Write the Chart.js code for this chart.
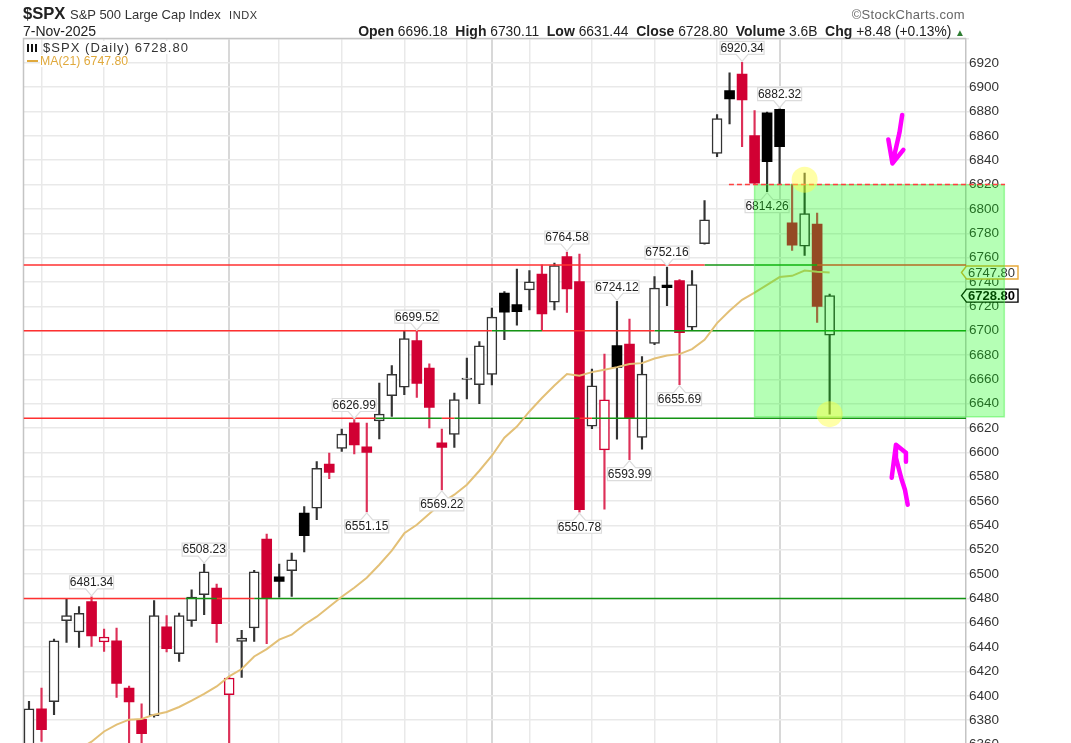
<!DOCTYPE html>
<html>
<head>
<meta charset="utf-8">
<title>$SPX</title>
<script src="https://cdn.jsdelivr.net/npm/chart.js@4"></script>
<style>
  html, body { margin: 0; padding: 0; width: 1071px; height: 743px; overflow: hidden; background: #fff; }
  body { position: relative; font-family: "Liberation Sans", Arial, sans-serif; color: #222; }
  canvas { position: absolute; left: 0; top: 0; }
  .txt { position: absolute; white-space: pre; line-height: 1; }
  .sym { left: 23px; top: 6px; font-size: 16.6px; font-weight: bold; }
  .name { left: 70px; top: 8px; font-size: 13px; color: #333; }
  .exch { left: 229px; top: 10px; font-size: 11px; letter-spacing: .6px; color: #333; }
  .date { left: 23px; top: 24px; font-size: 14px; }
  .brand { right: 106px; top: 8px; font-size: 13px; color: #666; letter-spacing: .3px; }
  .quote { right: 106px; top: 24px; font-size: 13.8px; }
  .quote b { font-size: 14px; }
  .quote i { font-style: normal; color: #2e7d32; font-size: 10px; }
  .legend { left: 43px; top: 41px; font-size: 13px; letter-spacing: 1.05px; background: #fff; color: #333; }
  .ico { position: absolute; left: 27px; top: 44px; width: 10px; height: 8px; background: repeating-linear-gradient(90deg, #111 0 2.5px, #fff 2.5px 4px); }
  .swatch { position: absolute; left: 27px; top: 60px; width: 11px; height: 2px; background: #e0a93c; }
  .legend2 { left: 40px; top: 55px; font-size: 12.3px; color: #e0a93c; background: #fff; }
</style>
</head>
<body>
<canvas id="chart" width="1071" height="794"></canvas>
<div class="txt sym">$SPX</div>
<div class="txt name">S&amp;P 500 Large Cap Index</div>
<div class="txt exch">INDX</div>
<div class="txt date">7-Nov-2025</div>
<div class="txt brand">©StockCharts.com</div>
<div class="txt quote"><b>Open</b> 6696.18  <b>High</b> 6730.11  <b>Low</b> 6631.44  <b>Close</b> 6728.80  <b>Volume</b> 3.6B  <b>Chg</b> +8.48 (+0.13%) <i>▲</i></div>
<div class="ico"></div>
<div class="txt legend">$SPX (Daily) 6728.80</div>
<div class="swatch"></div>
<div class="txt legend2">MA(21) 6747.80</div>
<script>
// daily candles, oldest first
const opens = [6350, 6389.2, 6395.1, 6461.7, 6452.4, 6477.3, 6444.2, 6445.2, 6406.4, 6380.6,
  6383.6, 6456.7, 6434.6, 6461.7, 6483, 6488.5, 6400.9, 6444.7, 6455.7, 6528.8,
  6497.8, 6502.7, 6550.1, 6554.2, 6590.4, 6603.2, 6624.3, 6604.6, 6625.9, 6646.5,
  6653.6, 6691.9, 6669.2, 6607.9, 6614.7, 6660, 6655.7, 6664, 6730.8, 6721.4,
  6733.5, 6746.4, 6723.4, 6760.9, 6740.3, 6621.6, 6602.1, 6687.8, 6688.9, 6612.2,
  6689.4, 6737.5, 6741.2, 6702.9, 6771.5, 6845.5, 6897.2, 6910.7, 6860.2, 6878.9,
  6881.9, 6788.5, 6769.4, 6787.5, 6696.18];
const highs = [6395.4, 6406.4, 6446.6, 6480, 6473.2, 6481.34, 6454.9, 6455.7, 6408, 6393.3,
  6478.3, 6466, 6468, 6487.1, 6508.23, 6491.8, 6415.5, 6453.7, 6503, 6532.9,
  6508.2, 6517.3, 6555.5, 6592.5, 6599.4, 6619.1, 6626.99, 6624, 6656.9, 6671.3,
  6699.5, 6699.52, 6672.7, 6619.1, 6648.7, 6677.4, 6691.1, 6718.5, 6732.1, 6750.5,
  6749.4, 6754, 6755.4, 6764.58, 6762.8, 6668.4, 6680.7, 6724.12, 6709.5, 6678.7,
  6744.4, 6752.16, 6742, 6749.4, 6806.9, 6877.5, 6911.7, 6920.34, 6880.8, 6879.5,
  6882.32, 6820.3, 6829.4, 6796.5, 6730.11];
const lows = [6338, 6362.5, 6384.5, 6443.8, 6439.7, 6440.6, 6436.5, 6398.7, 6352, 6358,
  6382.5, 6436, 6428.2, 6457, 6466.6, 6443.8, 6345, 6415.1, 6444.7, 6442.8,
  6481.1, 6481.6, 6518.3, 6544.6, 6578.3, 6600.7, 6598.8, 6551.15, 6611.1, 6629.5,
  6647.3, 6645.1, 6620, 6569.22, 6604, 6644, 6639.9, 6655.5, 6692.5, 6704.5,
  6717.1, 6700.1, 6717.1, 6714.9, 6550.78, 6619.4, 6553.4, 6610.9, 6593.99, 6602.7,
  6688.5, 6720.6, 6655.69, 6700.1, 6771, 6843, 6869.9, 6851.2, 6820.5, 6814.26,
  6820.3, 6765.8, 6761.7, 6706.7, 6631.44];
const closes = [6389.2, 6372.1, 6445.2, 6465.8, 6467.7, 6449.1, 6448.3, 6410.2, 6394.9, 6368.9,
  6465.8, 6438.7, 6465.8, 6481.1, 6501.9, 6459.2, 6414.6, 6447.5, 6501.9, 6480,
  6494, 6511.8, 6531.5, 6586.8, 6583.5, 6615, 6606.2, 6599.9, 6631.4, 6664,
  6693.5, 6656.6, 6636.9, 6604, 6643.4, 6661, 6687.5, 6711.1, 6715.2, 6715.5,
  6740.1, 6713.8, 6753.5, 6734.3, 6553, 6654.7, 6643.2, 6669.7, 6628.1, 6664.3,
  6734.9, 6735.2, 6698.4, 6737.9, 6791, 6874.2, 6890.4, 6889.6, 6821.1, 6838.9,
  6851.2, 6770.2, 6796.2, 6719.8, 6728.8];
const ma21 = [6336, 6340, 6345, 6350, 6356, 6362.3, 6370.7, 6376.3, 6380.4, 6381,
  6384.5, 6386.7, 6390.8, 6396, 6401.5, 6407.7, 6415.9, 6422, 6432.3, 6438.4,
  6446.1, 6450.2, 6458.4, 6465, 6473.2, 6481.4, 6488.8, 6497, 6507.7, 6519.2,
  6533.5, 6540.5, 6549.5, 6558.6, 6565.2, 6573.4, 6584.9, 6597.2, 6612, 6621.2,
  6633.6, 6644.6, 6654.9, 6664.3, 6662.9, 6665.9, 6667.8, 6670, 6672.5, 6673.3,
  6677.1, 6679.6, 6680.7, 6684.8, 6692.5, 6706.2, 6716.3, 6725.3, 6731.3, 6737.6,
  6744, 6745, 6749.4, 6748.3, 6747.8];

const gridDays = [1, 6, 11, 16, 20, 25, 30, 35, 37, 40, 45, 50, 55, 60, 65, 70];
const monthDays = [16, 37, 60];

// [day, value, 'up' above the high / 'down' below the low]
const priceLabels = [
  [5, 6481.34, 'up'], [14, 6508.23, 'up'], [26, 6626.99, 'up'], [31, 6699.52, 'up'],
  [43, 6764.58, 'up'], [47, 6724.12, 'up'], [51, 6752.16, 'up'], [57, 6920.34, 'up'], [60, 6882.32, 'up'],
  [27, 6551.15, 'down'], [33, 6569.22, 'down'], [44, 6550.78, 'down'], [48, 6593.99, 'down'],
  [52, 6655.69, 'down'], [59, 6814.26, 'down']
];

// support / resistance lines: [price, fromDay, toDay, colour]
const DAY_MIN = -0.44, DAY_MAX = 74.9;
const RED = '#ff3030', GREEN = '#149414';
const levelLines = [
  [6754, DAY_MIN, 54, RED], [6754, 54, 63, GREEN], [6754, 63, DAY_MAX, RED],
  [6700, DAY_MIN, 37, RED], [6700, 37, 41, GREEN], [6700, 41, 50, RED], [6700, 50, DAY_MAX, GREEN],
  [6628, DAY_MIN, 27.7, RED], [6628, 27.7, 33, GREEN], [6628, 33, 34, RED], [6628, 34, 44, GREEN], [6628, 44, 45, RED], [6628, 45, DAY_MAX, GREEN],
  [6480, DAY_MIN, 12.5, RED], [6480, 12.5, 15, GREEN], [6480, 15, 18, RED], [6480, 18, DAY_MAX, GREEN]
];

const boxDay = 67.98, boxLow = 6628.8, boxHigh = 6820.5;
const dashedDays = [55.95, 78.02], dashedPrice = 6820;
const circleDays = [62, 64], circlePrices = [6824, 6631.4];

const arrowDownDays = [69.8, 69.58, 69.02, 68.69, 69.02, 69.89];
const arrowDownPrices = [6877.2, 6862.5, 6837.4, 6857.1, 6837.4, 6848.5];
const arrowUpDays = [70.24, 70.02, 69.76, 69.3, 69.3, 68.96, 69.3, 70.1, 70.1];
const arrowUpPrices = [6557, 6569.3, 6577.5, 6595.5, 6606.2, 6579.1, 6606.2, 6599.6, 6592.3];

const CANDLE_RED = '#d10033';
const isDown = i => i > 0 && closes[i] < closes[i - 1];
const isHollow = i => closes[i] >= opens[i];
const edge = i => isDown(i) ? CANDLE_RED : (isHollow(i) ? '#333' : '#000');

const days = closes.map((_, i) => i);
const maIndex = 2;

const datasets = [
  { type: 'bar', data: days.map(i => ({ x: i, y: [lows[i], highs[i]] })), barThickness: 1.5, grouped: false,
    backgroundColor: days.map(i => isDown(i) ? '#dd3058' : '#333'), order: 9 },
  { type: 'bar', data: days.map(i => ({ x: i, y: [Math.min(opens[i], closes[i]), Math.max(opens[i], closes[i])] })),
    barThickness: 10, grouped: false, borderSkipped: false,
    backgroundColor: days.map(i => isHollow(i) ? '#fff' : edge(i)),
    borderColor: days.map(edge), borderWidth: days.map(i => isHollow(i) ? 1.5 : 0), order: 8 },
  { type: 'line', data: days.map(i => ({ x: i, y: ma21[i] })), borderColor: '#e3c077', borderWidth: 2,
    pointRadius: 0, tension: 0, order: 6 },
  { type: 'bar', data: [{ x: boxDay, y: [boxLow, boxHigh] }], barThickness: 251, grouped: false, clip: false,
    backgroundColor: 'rgba(0,255,0,0.29)', borderColor: 'rgba(90,240,90,0.5)', borderWidth: 1, borderSkipped: false, order: 5 },
  { type: 'line', data: dashedDays.map(d => ({ x: d, y: dashedPrice })), borderColor: '#ff4040', borderWidth: 1.5,
    borderDash: [5, 3], pointRadius: 0, clip: false, order: 4 },
  { type: 'line', data: circleDays.map((d, i) => ({ x: d, y: circlePrices[i] })), showLine: false, pointRadius: 13,
    pointBorderWidth: 0, pointBackgroundColor: 'rgba(255,255,60,0.45)', clip: false, order: 3 },
  { type: 'line', data: arrowDownDays.map((d, i) => ({ x: d, y: arrowDownPrices[i] })), borderColor: '#ff00ff', borderWidth: 4.5,
    pointRadius: 0, borderJoinStyle: 'round', borderCapStyle: 'round', order: 2 },
  { type: 'line', data: arrowUpDays.map((d, i) => ({ x: d, y: arrowUpPrices[i] })), borderColor: '#ff00ff', borderWidth: 4.5,
    pointRadius: 0, borderJoinStyle: 'round', borderCapStyle: 'round', order: 2 }
];
levelLines.forEach(([price, from, to, colour]) => {
  datasets.push({ type: 'line', data: [{ x: from, y: price }, { x: to, y: price }], borderColor: colour, borderWidth: 1.5, pointRadius: 0, order: 7 });
});

function drawPriceLabel(ctx, px, py, text, dir) {
  const w = 44, h = 13, gap = 8, s = dir === 'up' ? -1 : 1;
  const near = py + s * gap, far = near + s * h, tip = py + s * 1;
  ctx.beginPath();
  ctx.moveTo(px - w / 2, near);
  ctx.lineTo(px - 6, near);
  ctx.lineTo(px, tip);
  ctx.lineTo(px + 6, near);
  ctx.lineTo(px + w / 2, near);
  ctx.lineTo(px + w / 2, far);
  ctx.lineTo(px - w / 2, far);
  ctx.closePath();
  ctx.fillStyle = '#fff';
  ctx.fill();
  ctx.strokeStyle = '#dcdcdc';
  ctx.lineWidth = 1.2;
  ctx.stroke();
  ctx.fillStyle = '#222';
  ctx.font = '12px "Liberation Sans", Arial, sans-serif';
  ctx.textAlign = 'center';
  ctx.textBaseline = 'middle';
  ctx.fillText(text, px, (near + far) / 2 + 0.5);
}

function drawPriceTag(ctx, py, text, colour, bold) {
  const left = 966.5, right = 1018, h = 13;
  ctx.beginPath();
  ctx.moveTo(left - 5, py);
  ctx.lineTo(left, py - h / 2);
  ctx.lineTo(right, py - h / 2);
  ctx.lineTo(right, py + h / 2);
  ctx.lineTo(left, py + h / 2);
  ctx.closePath();
  ctx.fillStyle = '#fff';
  ctx.fill();
  ctx.strokeStyle = colour;
  ctx.lineWidth = 1.4;
  ctx.stroke();
  ctx.fillStyle = bold ? '#000' : '#333';
  ctx.font = (bold ? 'bold ' : '') + '13px "Liberation Sans", Arial, sans-serif';
  ctx.textAlign = 'left';
  ctx.textBaseline = 'middle';
  ctx.fillText(text, left + 1.5, py + 0.5);
}

// labels and price tags sit over the candles but under the green box
const annotations = {
  id: 'annotations',
  beforeDatasetsDraw(chart) {
    const { ctx, chartArea: a } = chart;
    ctx.save();
    ctx.strokeStyle = '#c4c4c4';
    ctx.lineWidth = 1.5;
    ctx.beginPath();
    ctx.moveTo(a.left, a.bottom);
    ctx.lineTo(a.left, a.top);
    ctx.lineTo(a.right, a.top);
    ctx.stroke();
    ctx.restore();
  },
  afterDatasetDraw(chart, args) {
    if (args.index !== maIndex) return;
    const { ctx, scales: { x, y } } = chart;
    ctx.save();
    priceLabels.forEach(([day, value, dir]) => {
      drawPriceLabel(ctx, x.getPixelForValue(day), y.getPixelForValue(value), value.toFixed(2), dir);
    });
    drawPriceTag(ctx, y.getPixelForValue(ma21[ma21.length - 1]), ma21[ma21.length - 1].toFixed(2), '#e8a93a', false);
    drawPriceTag(ctx, y.getPixelForValue(closes[closes.length - 1]), closes[closes.length - 1].toFixed(2), '#000', true);
    ctx.restore();
  }
};

new Chart(document.getElementById('chart').getContext('2d'), {
  type: 'bar',
  data: { datasets },
  plugins: [annotations],
  options: {
    responsive: false,
    animation: false,
    events: [],
    layout: { padding: { left: 23.5, top: 38.5, right: 0, bottom: 10 } },
    plugins: { legend: { display: false }, tooltip: { enabled: false } },
    scales: {
      x: {
        type: 'linear', min: DAY_MIN, max: DAY_MAX, offset: false,
        afterBuildTicks: s => { s.ticks = gridDays.map(v => ({ value: v })); },
        afterFit: s => { s.height = 0; },
        ticks: { display: false },
        border: { display: false },
        grid: {
          offset: false, drawTicks: false,
          color: c => monthDays.includes(c.tick.value) ? '#d8d8d8' : '#e9e9e9',
          lineWidth: c => monthDays.includes(c.tick.value) ? 2 : 1.5
        }
      },
      y: {
        type: 'linear', position: 'right', min: 6330, max: 6940,
        afterFit: s => { s.width = 105; },
        border: { color: '#c4c4c4', width: 1.5 },
        grid: { color: '#e9e9e9', lineWidth: 1.5, tickLength: 3 },
        ticks: {
          stepSize: 20, autoSkip: false, padding: 0, color: '#333',
          font: { family: '"Liberation Sans", Arial, sans-serif', size: 13.5 },
          callback: v => v > 6920 ? '' : String(v)
        }
      }
    }
  }
});
</script>
</body>
</html>
